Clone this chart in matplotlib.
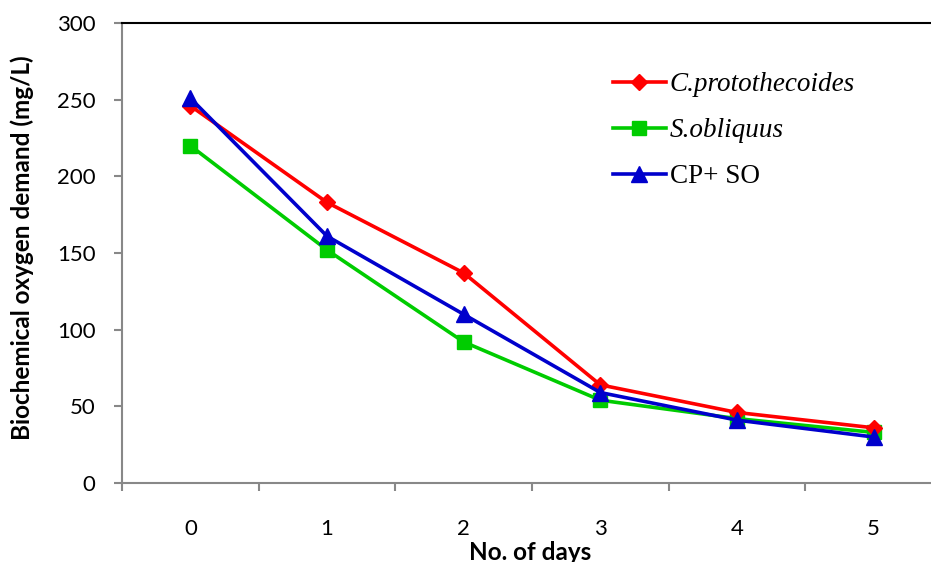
import matplotlib
matplotlib.use("Agg")
import matplotlib.pyplot as plt

days = ["0", "1", "2", "3", "4", "5"]
cp = [246, 183, 137, 64, 46, 36]
so = [220, 152, 92, 54, 42, 33]
mix = [251, 161, 110, 59, 41, 30]
yticks = [0, 50, 100, 150, 200, 250, 300]

fig = plt.figure(figsize=(9.31, 5.62), dpi=100)
ax = fig.add_axes([122/931, 1-483/562, (942-122)/931, 460/562])
x = list(range(len(days)))

ax.plot(x, cp, color="#ff0000", lw=2.6, marker="D", ms=8, label="C.protothecoides", zorder=3)
ax.plot(x, so, color="#00cc00", lw=2.6, marker="s", ms=10, label="S.obliquus", zorder=2)
ax.plot(x, mix, color="#0000cc", lw=2.6, marker="^", ms=11, label="CP+ SO", zorder=4)

ax.set_xlim(-0.5, 5.5)
ax.set_ylim(0, 300)
ax.set_yticks(yticks)
ax.set_xticks(x)
ax.set_xticklabels(days)
ax.set_xticks([i - 0.5 for i in range(7)], minor=True)
ax.tick_params(axis="x", which="major", length=0, pad=26, labelsize=16)
ax.tick_params(axis="x", which="minor", length=6, width=1.5, color="#888888", direction="out")
ax.tick_params(axis="y", length=6, width=1.5, color="#888888", direction="out", labelsize=16, pad=13)
for lab in ax.get_xticklabels() + ax.get_yticklabels():
    lab.set_family("Lato")

ax.spines["left"].set_color("#888888")
ax.spines["left"].set_linewidth(1.5)
ax.spines["bottom"].set_color("#888888")
ax.spines["bottom"].set_linewidth(1.5)
ax.spines["top"].set_color("black")
ax.spines["top"].set_linewidth(1.5)
ax.spines["right"].set_visible(False)

fig.text(530/931, 1-552/562, "No. of days", family="Lato", fontweight="bold",
         fontsize=17.5, ha="center", va="center")
fig.text(22/931, 1-248/562, "Biochemical oxygen demand (mg/L)", family="Lato",
         fontweight="bold", fontsize=17.5, ha="center", va="center", rotation=90)

leg = ax.legend(loc="upper left", bbox_to_anchor=((613-122)/820, (483-72)/460), frameon=False,
                borderpad=0, borderaxespad=0,
                handlelength=1.95, handletextpad=0.15, labelspacing=0.78,
                prop={"family": "Liberation Serif", "size": 19.5})
texts = leg.get_texts()
texts[0].set_style("italic")
texts[1].set_style("italic")

fig.savefig("out.png", dpi=100)
